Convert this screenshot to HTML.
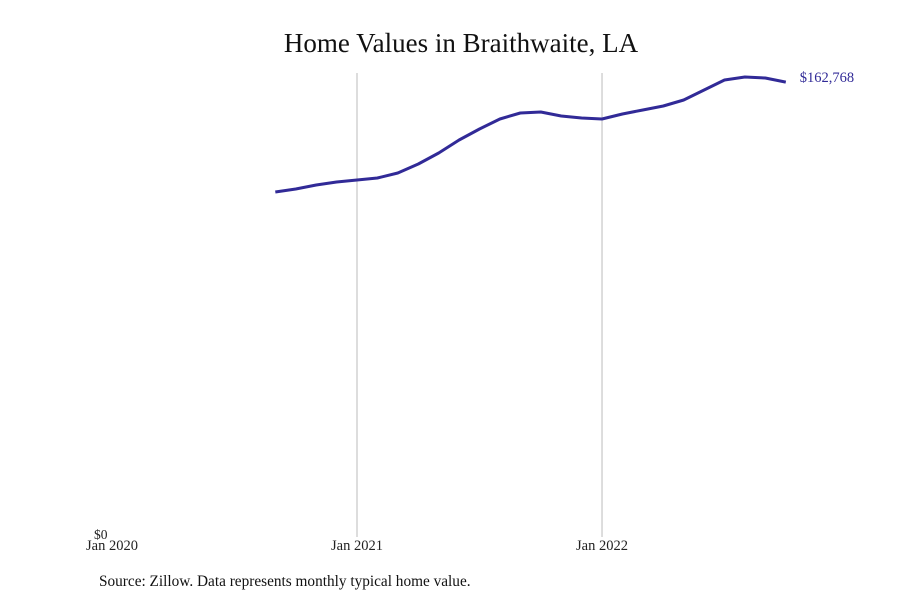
<!DOCTYPE html>
<html><head><meta charset="utf-8"><style>
body{margin:0;background:#fff;width:900px;height:600px;overflow:hidden;font-family:"Liberation Serif",serif}
</style></head><body>
<svg width="900" height="600">
<text x="461" y="52" text-anchor="middle" font-size="27" fill="#111">Home Values in Braithwaite, LA</text>
<g id="grid"></g>
<path id="line" fill="none" stroke="#312a97" stroke-width="3" stroke-linejoin="round"></path>
<text x="94" y="539" font-size="13.5" fill="#222">$0</text>
<text id="endlabel" font-size="14.5" fill="#312a97"></text>
<g id="xticks"></g>
<text x="99" y="586" font-size="15.3" fill="#111">Source: Zillow. Data represents monthly typical home value.</text>
</svg>
<script>
const startMonth = 8; // Sep 2020, months since Jan 2020
const values = [123435,124508,125939,127013,127728,128444,130233,133453,137388,142039,145975,149553,151699,152057,150626,149911,149553,151342,152773,154204,156351,159928,163506,164580,164222,162768];
const tickMonths = [0,12,24];
const tickLabels = ["Jan 2020","Jan 2021","Jan 2022"];
const x = m => 112 + m * 20.417;
const y = v => 537 - v * 0.002795;
const ns = "http://www.w3.org/2000/svg";
let d = values.map((v,i)=>(i?"L":"M")+x(startMonth+i).toFixed(1)+","+y(v).toFixed(1)).join("");
document.getElementById("line").setAttribute("d", d);
const last = values[values.length-1];
const el = document.getElementById("endlabel");
el.setAttribute("x", x(startMonth+values.length-1)+14);
el.setAttribute("y", y(last)+0);
el.textContent = "$" + last.toLocaleString("en-US");
const grid = document.getElementById("grid"), xt = document.getElementById("xticks");
tickMonths.forEach((m,i)=>{
  if(i>0){
    const l=document.createElementNS(ns,"line");
    
    
    l.setAttribute("x1",x(m));l.setAttribute("x2",x(m));l.setAttribute("y1",73);l.setAttribute("y2",537);
    l.setAttribute("stroke","#bbb");l.setAttribute("stroke-width","1");
    grid.appendChild(l);
  }
  const t=document.createElementNS(ns,"text");
  
  
  t.setAttribute("x",x(m));t.setAttribute("y",550);t.setAttribute("text-anchor","middle");
  t.setAttribute("font-size","14.5");t.setAttribute("fill","#222");
  t.textContent=tickLabels[i];
  xt.appendChild(t);
});
</script>
</body></html>
